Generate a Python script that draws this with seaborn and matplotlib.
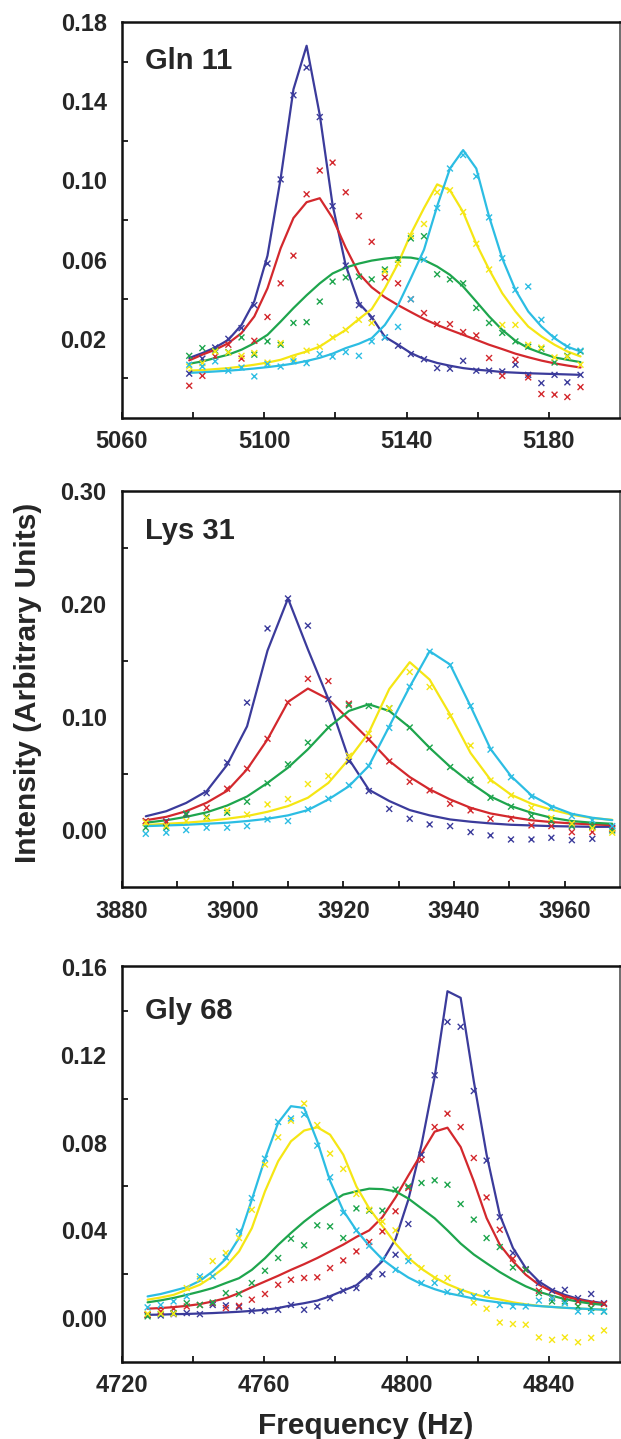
import numpy as np
import pandas as pd
import matplotlib
matplotlib.use("Agg")
import matplotlib.pyplot as plt
from matplotlib.ticker import FixedLocator
import seaborn as sns

# ---------------------------------------------------------------
# Data
# ---------------------------------------------------------------
SERIES = ["s1", "s2", "s3", "s4", "s5"]
PALETTE = {"s1": "#3b3b9b", "s2": "#d3282d", "s3": "#1ea54d",
           "s4": "#f5e614", "s5": "#2cbde3"}

# --- Gln 11 ---
gln_freq = [5078.9, 5082.6, 5086.2, 5089.9, 5093.6, 5097.2, 5100.9, 5104.6,
            5108.2, 5111.9, 5115.6, 5119.2, 5122.9, 5126.6, 5130.2, 5133.9,
            5137.6, 5141.2, 5144.9, 5148.6, 5152.2, 5155.9, 5159.6, 5163.2,
            5166.9, 5170.6, 5174.2, 5177.9, 5181.6, 5185.2, 5188.9]
gln_fit_s1 = [0.0103, 0.0128, 0.0156, 0.0195, 0.027, 0.039, 0.062, 0.101, 0.146, 0.168,
              0.133, 0.0876, 0.057, 0.038, 0.031, 0.021, 0.017, 0.0128, 0.0098, 0.0078,
              0.0064, 0.0052, 0.0044, 0.0039, 0.0032, 0.0029, 0.0026, 0.0024, 0.0022,
              0.0020, 0.0018]
gln_obs_s1 = [0.0024, 0.010, 0.0156, 0.020, 0.0254, 0.037, 0.058, 0.1005, 0.143, 0.157,
              0.132, 0.087, 0.057, 0.037, 0.0304, 0.0207, 0.0165, 0.0123, 0.0097, 0.0052,
              0.0049, 0.0089, 0.0039, 0.0039, 0.0035, 0.0069, 0.0018, -0.0024, 0.0018,
              -0.002, 0.0018]
gln_fit_s2 = [0.0091, 0.012, 0.0145, 0.0178, 0.0229, 0.0313, 0.0455, 0.0657, 0.081, 0.089,
              0.091, 0.081, 0.066, 0.053, 0.046, 0.041, 0.037, 0.0335, 0.030, 0.027,
              0.0245, 0.022, 0.0195, 0.017, 0.0148, 0.0125, 0.0107, 0.009, 0.0076,
              0.0065, 0.0055]
gln_obs_s2 = [-0.0037, 0.0013, 0.011, 0.017, 0.010, 0.019, 0.031, 0.048, 0.062, 0.093,
              0.105, 0.109, 0.094, 0.082, 0.069, 0.051, 0.048, 0.040, 0.033, 0.0274,
              0.0274, 0.0234, 0.0217, 0.0103, 0.0013, 0.0094, 0.0005, -0.0079, -0.0082,
              -0.0094, -0.0044]
gln_fit_s3 = [0.0074, 0.0086, 0.0103, 0.012, 0.0145, 0.0178, 0.022, 0.0287, 0.0355, 0.042,
              0.048, 0.053, 0.056, 0.058, 0.0595, 0.0605, 0.0612, 0.061, 0.0598, 0.0565,
              0.0523, 0.0464, 0.0388, 0.0313, 0.0245, 0.019, 0.0153, 0.0128, 0.0106,
              0.0094, 0.0082]
gln_obs_s3 = [0.0114, 0.0153, 0.014, 0.0133, 0.0207, 0.012, 0.0187, 0.017, 0.028, 0.0284,
              0.0388, 0.0489, 0.051, 0.0514, 0.050, 0.055, 0.060, 0.0707, 0.0718, 0.0526,
              0.050, 0.048, 0.0356, 0.028, 0.023, 0.0187, 0.016, 0.015, 0.008, 0.0114,
              0.0136]
gln_fit_s4 = [0.0039, 0.0042, 0.0047, 0.0052, 0.006, 0.0069, 0.008, 0.0094, 0.0116, 0.0136,
              0.0161, 0.0203, 0.0245, 0.030, 0.035, 0.0455, 0.058, 0.073, 0.086, 0.098,
              0.095, 0.084, 0.068, 0.055, 0.043, 0.0338, 0.0262, 0.0212, 0.017, 0.0136,
              0.0111]
gln_obs_s4 = [0.006, 0.0077, 0.0136, 0.0131, 0.0114, 0.0128, 0.008, 0.0178, 0.010, 0.014,
              0.016, 0.0207, 0.0245, 0.0296, 0.028, 0.054, 0.058, 0.072, 0.078, 0.094,
              0.095, 0.084, 0.068, 0.055, 0.027, 0.027, 0.017, 0.0156, 0.0106, 0.011,
              0.0069]
gln_fit_s5 = [0.0028, 0.0031, 0.0035, 0.0039, 0.0044, 0.005, 0.0057, 0.0065, 0.0075, 0.0088,
              0.0104, 0.0125, 0.0153, 0.0175, 0.0203, 0.027, 0.037, 0.0506, 0.065, 0.087,
              0.106, 0.1153, 0.106, 0.0817, 0.0606, 0.0447, 0.0338, 0.0262, 0.0203, 0.016,
              0.0136]
gln_obs_s5 = [0.0069, 0.006, 0.0086, 0.0039, 0.0055, 0.001, 0.0072, 0.006, 0.0086, 0.0077,
              0.0123, 0.011, 0.0133, 0.0114, 0.0187, 0.0207, 0.026, 0.040, 0.060, 0.086,
              0.106, 0.1128, 0.102, 0.0813, 0.0607, 0.0447, 0.0464, 0.0296, 0.0207, 0.0161,
              0.014]

# --- Lys 31 ---
lys_freq = [3884.3, 3888.0, 3891.6, 3895.3, 3899.0, 3902.6, 3906.3, 3910.0,
            3913.6, 3917.3, 3921.0, 3924.6, 3928.3, 3932.0, 3935.6, 3939.3,
            3943.0, 3946.6, 3950.3, 3954.0, 3957.6, 3961.3, 3965.0, 3968.6]
lys_fit_s1 = [0.0125, 0.017, 0.0243, 0.0347, 0.058, 0.092, 0.159, 0.205, 0.160, 0.116,
              0.063, 0.036, 0.026, 0.018, 0.0133, 0.0097, 0.0077, 0.0062, 0.005, 0.0044,
              0.0038, 0.0035, 0.0032, 0.0032]
lys_obs_s1 = [0.008, 0.008, 0.014, 0.033, 0.060, 0.113, 0.1785, 0.205, 0.181, 0.116,
              0.061, 0.0348, 0.019, 0.0103, 0.0053, 0.0038, -0.0015, -0.0044, -0.008, -0.008,
              -0.0065, -0.0086, -0.0074, 0.0024]
lys_fit_s2 = [0.009, 0.012, 0.017, 0.0245, 0.035, 0.054, 0.0805, 0.1136, 0.1254, 0.116,
              0.098, 0.0805, 0.0614, 0.0472, 0.0363, 0.0274, 0.020, 0.015, 0.0118, 0.009,
              0.0074, 0.0062, 0.0053, 0.0047]
lys_obs_s2 = [0.0083, 0.0074, 0.0147, 0.020, 0.0369, 0.0546, 0.081, 0.113, 0.134, 0.132,
              0.112, 0.0805, 0.061, 0.043, 0.0354, 0.0236, 0.0177, 0.0103, 0.0103, 0.0044,
              0.0038, -0.0015, -0.0015, 0.0015]
lys_fit_s3 = [0.0068, 0.009, 0.012, 0.016, 0.022, 0.030, 0.042, 0.0555, 0.0717, 0.091,
              0.1056, 0.1115, 0.1056, 0.091, 0.073, 0.0563, 0.042, 0.030, 0.0215, 0.0156,
              0.0112, 0.0083, 0.0068, 0.0059]
lys_obs_s3 = [0.0024, 0.0024, 0.0147, 0.012, 0.0156, 0.0254, 0.0416, 0.0584, 0.0776, 0.091,
              0.1106, 0.110, 0.108, 0.091, 0.0732, 0.056, 0.0448, 0.0289, 0.021, 0.0127,
              0.0083, 0.0038, 0.0038, 0.000]
lys_fit_s4 = [0.0047, 0.0059, 0.0068, 0.0083, 0.0103, 0.0127, 0.0165, 0.0215, 0.0289, 0.042,
              0.063, 0.0864, 0.125, 0.1487, 0.1333, 0.1024, 0.0684, 0.0448, 0.0316, 0.0236,
              0.0183, 0.0139, 0.0109, 0.0094]
lys_obs_s4 = [0.007, 0.004, 0.0083, 0.011, 0.0177, 0.014, 0.023, 0.0277, 0.041, 0.048,
              0.066, 0.0855, 0.108, 0.140, 0.1268, 0.1009, 0.075, 0.0442, 0.031, 0.020,
              0.011, 0.006, 0.002, -0.002]
lys_fit_s5 = [0.0038, 0.0044, 0.005, 0.0059, 0.0068, 0.0083, 0.0103, 0.0133, 0.018, 0.0274,
              0.039, 0.057, 0.092, 0.127, 0.1584, 0.1466, 0.1097, 0.072, 0.048, 0.031,
              0.0215, 0.0147, 0.0112, 0.0091]
lys_obs_s5 = [-0.003, -0.002, 0.0003, 0.0024, 0.0024, 0.0038, 0.0097, 0.0083, 0.0186, 0.028,
              0.040, 0.057, 0.0906, 0.127, 0.158, 0.146, 0.110, 0.0714, 0.047, 0.030,
              0.020, 0.0127, 0.009, 0.0038]

# --- Gly 68 ---
gly_freq = [4727.2, 4730.9, 4734.5, 4738.2, 4741.9, 4745.5, 4749.2, 4752.9,
            4756.5, 4760.2, 4763.9, 4767.5, 4771.2, 4774.9, 4778.5, 4782.2,
            4785.9, 4789.5, 4793.2, 4796.9, 4800.5, 4804.2, 4807.9, 4811.5,
            4815.2, 4818.9, 4822.5, 4826.2, 4829.9, 4833.5, 4837.2, 4840.9,
            4844.5, 4848.2, 4851.9, 4855.5]
gly_fit_s1 = [0.0015, 0.0016, 0.0018, 0.0019, 0.0021, 0.0023, 0.0026, 0.0029, 0.0033, 0.0038,
              0.0046, 0.0058, 0.0068, 0.0080, 0.0100, 0.0125, 0.0150, 0.020, 0.026, 0.036,
              0.054, 0.079, 0.110, 0.149, 0.146, 0.108, 0.0745, 0.0471, 0.032, 0.0228,
              0.0167, 0.0129, 0.0106, 0.0088, 0.0076, 0.0068]
gly_obs_s1 = [0.0015, 0.0012, 0.0018, 0.0023, 0.0018, 0.006, 0.0058, 0.005, 0.0033, 0.0033,
              0.0038, 0.006, 0.0038, 0.0053, 0.0091, 0.0125, 0.0137, 0.019, 0.020, 0.0289,
              0.0429, 0.0745, 0.1107, 0.135, 0.1328, 0.1035, 0.0718, 0.046, 0.0297, 0.0223,
              0.016, 0.0125, 0.0129, 0.0091, 0.011, 0.0068]
gly_fit_s2 = [0.0043, 0.0046, 0.005, 0.0056, 0.0064, 0.0076, 0.0091, 0.0114, 0.0141, 0.0167,
              0.0193, 0.022, 0.0246, 0.0274, 0.0304, 0.0335, 0.037, 0.040, 0.046, 0.055,
              0.065, 0.075, 0.085, 0.0868, 0.078, 0.0624, 0.0456, 0.0335, 0.0259, 0.0198,
              0.0152, 0.0122, 0.0099, 0.0084, 0.0073, 0.0064]
gly_obs_s2 = [0.0015, 0.003, 0.0043, 0.0053, 0.006, 0.0068, 0.0046, 0.0056, 0.0084, 0.011,
              0.0152, 0.0175, 0.0183, 0.0186, 0.0228, 0.0263, 0.0304, 0.0347, 0.0395, 0.0487,
              0.0593, 0.0722, 0.0871, 0.0932, 0.0871, 0.073, 0.055, 0.0403, 0.0271, 0.022,
              0.0125, 0.0091, 0.0088, 0.0076, 0.0068, 0.0064]
gly_fit_s3 = [0.0072, 0.0081, 0.0092, 0.0106, 0.0121, 0.0137, 0.016, 0.0182, 0.022, 0.0273,
              0.0334, 0.0388, 0.044, 0.0486, 0.0525, 0.0563, 0.0578, 0.059, 0.0588, 0.0578,
              0.0545, 0.050, 0.0455, 0.040, 0.034, 0.029, 0.025, 0.021, 0.0175, 0.0145,
              0.012, 0.0102, 0.0087, 0.0075, 0.0066, 0.006]
gly_obs_s3 = [0.0008, 0.0018, 0.0023, 0.0068, 0.006, 0.0071, 0.0114, 0.011, 0.016, 0.0216,
              0.0274, 0.0362, 0.0332, 0.0423, 0.0418, 0.0365, 0.050, 0.049, 0.049, 0.0586,
              0.060, 0.0616, 0.0628, 0.0608, 0.052, 0.0449, 0.0365, 0.0324, 0.0231, 0.022,
              0.0114, 0.0076, 0.0076, 0.0053, 0.0046, 0.003]
gly_fit_s4 = [0.0084, 0.0094, 0.0106, 0.0129, 0.0152, 0.019, 0.0236, 0.0304, 0.041, 0.0578,
              0.0715, 0.0806, 0.0855, 0.087, 0.0836, 0.0745, 0.060, 0.050, 0.042, 0.034,
              0.0275, 0.0225, 0.0185, 0.0155, 0.013, 0.011, 0.0095, 0.0085, 0.0072, 0.0063,
              0.0056, 0.0051, 0.0047, 0.0044, 0.0041, 0.004]
gly_obs_s4 = [0.002, 0.002, 0.002, 0.0137, 0.0178, 0.026, 0.0297, 0.0365, 0.0494, 0.070,
              0.0824, 0.090, 0.0978, 0.088, 0.075, 0.068, 0.0566, 0.0494, 0.044, 0.040,
              0.0278, 0.0228, 0.0183, 0.0183, 0.012, 0.0071, 0.0043, -0.002, -0.0027, -0.003,
              -0.0088, -0.0099, -0.0088, -0.011, -0.009, -0.0056]
gly_fit_s5 = [0.0099, 0.011, 0.0125, 0.0141, 0.017, 0.0213, 0.027, 0.0365, 0.054, 0.0727,
              0.089, 0.0966, 0.0958, 0.0806, 0.0625, 0.049, 0.040, 0.033, 0.0268, 0.0223,
              0.0185, 0.0155, 0.0132, 0.0114, 0.0102, 0.0089, 0.0079, 0.0071, 0.0065, 0.006,
              0.0055, 0.0051, 0.0047, 0.0044, 0.0041, 0.0038]
gly_obs_s5 = [0.0049, 0.006, 0.0076, 0.0099, 0.019, 0.019, 0.0277, 0.0395, 0.0547, 0.0727,
              0.0894, 0.091, 0.0928, 0.0786, 0.0642, 0.048, 0.040, 0.033, 0.027, 0.022,
              0.026, 0.016, 0.016, 0.0119, 0.0119, 0.0099, 0.0114, 0.006, 0.0053, 0.0053,
              0.008, 0.009, 0.0068, 0.003, 0.003, 0.003]

# axis setup per panel
gln_xlabels = [5060, 5100, 5140, 5180]
gln_xminor = [5080, 5120, 5160]
gln_ylabels = [0.02, 0.06, 0.10, 0.14, 0.18]
gln_yminor = [0.00, 0.04, 0.08, 0.12, 0.16]

lys_xlabels = [3880, 3900, 3920, 3940, 3960]
lys_xminor = [3890, 3910, 3930, 3950]
lys_ylabels = [0.00, 0.10, 0.20, 0.30]
lys_yminor = [0.05, 0.15, 0.25]

gly_xlabels = [4720, 4760, 4800, 4840]
gly_xminor = [4740, 4780, 4820]
gly_ylabels = [0.00, 0.04, 0.08, 0.12, 0.16]
gly_yminor = [0.02, 0.06, 0.10, 0.14]


def long_frame(freq, fits, obs):
    rows = []
    for name, f, o in zip(SERIES, fits, obs):
        rows.append(pd.DataFrame({"freq": freq, "fit": f, "obs": o, "series": name}))
    return pd.concat(rows, ignore_index=True)


panels = [
    dict(name="Gln 11", df=long_frame(gln_freq,
                                      [gln_fit_s1, gln_fit_s2, gln_fit_s3, gln_fit_s4, gln_fit_s5],
                                      [gln_obs_s1, gln_obs_s2, gln_obs_s3, gln_obs_s4, gln_obs_s5]),
         xlim=(5060, 5200), ylim=(-0.02, 0.18), xl=gln_xlabels, xm=gln_xminor,
         yl=gln_ylabels, ym=gln_yminor, rect=(418, 396), lab_dy=47),
    dict(name="Lys 31", df=long_frame(lys_freq,
                                      [lys_fit_s1, lys_fit_s2, lys_fit_s3, lys_fit_s4, lys_fit_s5],
                                      [lys_obs_s1, lys_obs_s2, lys_obs_s3, lys_obs_s4, lys_obs_s5]),
         xlim=(3880, 3970), ylim=(-0.05, 0.30), xl=lys_xlabels, xm=lys_xminor,
         yl=lys_ylabels, ym=lys_yminor, rect=(887, 396), lab_dy=48),
    dict(name="Gly 68", df=long_frame(gly_freq,
                                      [gly_fit_s1, gly_fit_s2, gly_fit_s3, gly_fit_s4, gly_fit_s5],
                                      [gly_obs_s1, gly_obs_s2, gly_obs_s3, gly_obs_s4, gly_obs_s5]),
         xlim=(4720, 4860), ylim=(-0.02, 0.1605), xl=gly_xlabels, xm=gly_xminor,
         yl=gly_ylabels, ym=gly_yminor, rect=(1362, 396), lab_dy=53),
]

# ---------------------------------------------------------------
# Figure
# ---------------------------------------------------------------
sns.set_style("white")
plt.rcParams["font.family"] = ["Liberation Sans", "DejaVu Sans"]
plt.rcParams["font.weight"] = "bold"

W, H = 621, 1439
fig = plt.figure(figsize=(W / 100, H / 100), dpi=100)
fig.patch.set_facecolor("white")

AX_LEFT, AX_RIGHT = 122, 620

for p in panels:
    bottom_px, height_px = p["rect"]
    ax = fig.add_axes([AX_LEFT / W, 1 - bottom_px / H,
                       (AX_RIGHT - AX_LEFT) / W, height_px / H])
    df = p["df"]

    sns.lineplot(data=df, x="freq", y="fit", hue="series", hue_order=SERIES,
                 palette=PALETTE, linewidth=1.6, errorbar=None, legend=False, ax=ax)
    sns.scatterplot(data=df, x="freq", y="obs", hue="series", hue_order=SERIES,
                    palette=PALETTE, marker="x", s=18, linewidth=1.0,
                    legend=False, ax=ax, zorder=3)

    ax.set_xlim(*p["xlim"])
    ax.set_ylim(*p["ylim"])
    ax.set_xlabel("")
    ax.set_ylabel("")

    # x: every tick drawn, labels on the major ones
    ax.xaxis.set_major_locator(FixedLocator(p["xl"]))
    ax.xaxis.set_minor_locator(FixedLocator(p["xm"]))
    ax.set_xticklabels([str(v) for v in p["xl"]])
    ax.tick_params(axis="x", which="both", direction="in", length=4, width=1.4,
                   pad=9, labelsize=17, bottom=True)

    # y: labelled values without marks, short marks in between
    ax.yaxis.set_major_locator(FixedLocator(p["yl"]))
    ax.yaxis.set_minor_locator(FixedLocator(p["ym"]))
    ax.set_yticklabels([f"{v:.2f}" for v in p["yl"]])
    ax.tick_params(axis="y", which="major", length=0, pad=11, labelsize=17, left=True)
    ax.tick_params(axis="y", which="minor", direction="in", length=4, width=1.4, left=True)

    for lbl in ax.get_xticklabels() + ax.get_yticklabels():
        lbl.set_fontweight("bold")

    for side in ["left", "bottom", "top"]:
        ax.spines[side].set_linewidth(1.8)
        ax.spines[side].set_color("#111111")
    ax.spines["right"].set_linewidth(1.2)
    ax.spines["right"].set_color("#555555")

    ax.text(23 / (AX_RIGHT - AX_LEFT), 1 - p["lab_dy"] / height_px, p["name"],
            transform=ax.transAxes, fontsize=21, fontweight="bold",
            ha="left", va="baseline")

fig.text(28 / W, 1 - 683 / H, "Intensity (Arbitrary Units)", rotation=90,
         fontsize=21.5, fontweight="bold", ha="center", va="center")
fig.text(366 / W, 1 - 1434 / H, "Frequency (Hz)", fontsize=21.5,
         fontweight="bold", ha="center", va="baseline")

fig.savefig("out.png", dpi=100, facecolor="white")
